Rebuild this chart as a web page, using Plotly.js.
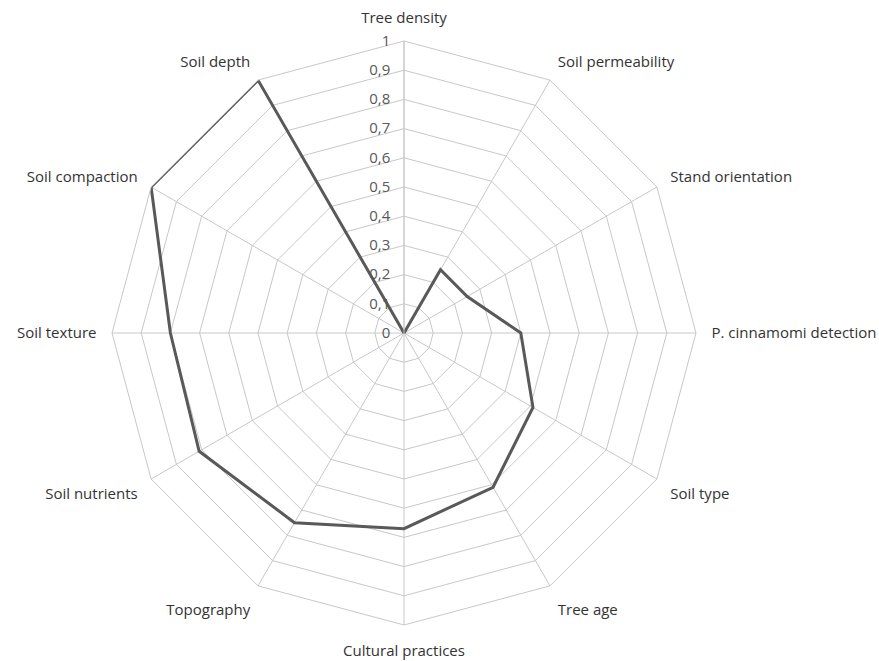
<!DOCTYPE html>
<html>
<head>
<meta charset="utf-8">
<script src="https://cdn.plot.ly/plotly-3.0.1.min.js"></script>
<style>html,body{margin:0;padding:0;background:#fff;}#chart{width:879px;height:661px;}</style>
</head>
<body>
<div id="chart"></div>
<script>
const categories = ["Tree density","Soil permeability","Stand orientation","P. cinnamomi detection","Soil type","Tree age","Cultural practices","Topography","Soil nutrients","Soil texture","Soil compaction","Soil depth"];
const values = [0, 0.25, 0.25, 0.40, 0.51, 0.61, 0.67, 0.75, 0.81, 0.80, 1.0, 1.0];
const radialTicks = [0,0.1,0.2,0.3,0.4,0.5,0.6,0.7,0.8,0.9,1];

const trace = {
  type: "scatterpolar",
  r: values.concat([values[0]]),
  theta: categories.concat([categories[0]]),
  mode: "lines",
  line: {color: "#595959", width: 3},
  hoverinfo: "skip"
};

const layout = {
  width: 879, height: 661,
  margin: {l: 112, r: 183, t: 41, b: 36},
  paper_bgcolor: "#fff",
  separators: ", ",
  showlegend: false,
  font: {family: "Open Sans, sans-serif", color: "#333", size: 15},
  polar: {
    gridshape: "linear",
    bgcolor: "#fff",
    domain: {x: [0,1], y: [0,1]},
    angularaxis: {
      direction: "clockwise",
      rotation: 90,
      type: "category",
      categoryarray: categories,
      showline: true,
      linecolor: "#c8c8c8",
      linewidth: 1,
      gridcolor: "#c8c8c8",
      gridwidth: 1,
      ticks: "outside",
      ticklen: 12,
      tickcolor: "rgba(0,0,0,0)",
      tickfont: {size: 15, color: "#333"}
    },
    radialaxis: {
      range: [0, 1],
      tickvals: radialTicks,
      ticktext: radialTicks.map(v => String(v).replace(".", ",")),
      angle: 90,
      tickangle: 90,
      side: "counterclockwise",
      showline: true,
      linecolor: "#c8c8c8",
      gridcolor: "#c8c8c8",
      gridwidth: 1,
      ticks: "outside",
      ticklen: 8,
      tickcolor: "rgba(0,0,0,0)",
      tickfont: {size: 15, color: "#595959"}
    }
  }
};

Plotly.newPlot("chart", [trace], layout, {displayModeBar: false, staticPlot: true});
</script>
</body>
</html>
